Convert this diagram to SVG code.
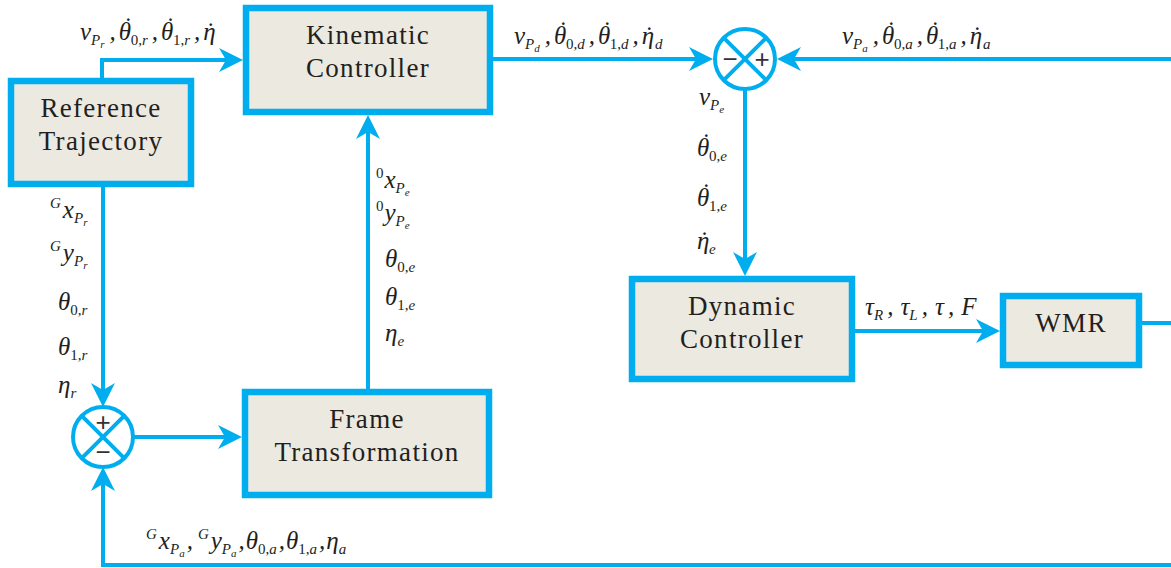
<svg xmlns="http://www.w3.org/2000/svg" width="1171" height="568" viewBox="0 0 1171 568">
  <style>
    .box rect { fill: #ECE9E0; stroke: #00AEEF; stroke-width: 6.5; }
    .lbl { font-family: "Liberation Serif", serif; font-size: 27px; fill: #231F20; text-anchor: middle; letter-spacing: 1.3px; }
    .m { font-family: "Liberation Serif", serif; font-style: italic; font-size: 25px; fill: #231F20; }
    .s { font-size: 15px; }
    .ss { font-size: 11px; }
    .up { font-style: normal; }
    .wire { fill: none; stroke: #00AEEF; stroke-width: 4; }
    .sum circle { fill: #FFFFFF; stroke: #00AEEF; stroke-width: 4; }
    .sum line { stroke: #00AEEF; stroke-width: 4; }
    .sign { font-family: "Liberation Sans", sans-serif; font-size: 26px; fill: #333333; text-anchor: middle; }
  </style>
  <defs>
    <marker id="ah" markerUnits="userSpaceOnUse" markerWidth="24" markerHeight="24" viewBox="0 0 24 24" refX="16" refY="12" orient="auto">
      <path d="M0,0 L24,12 L0,24 L7,12 z" fill="#00AEEF"/>
    </marker>
  </defs>

  <rect width="1171" height="568" fill="#FFFFFF"/>

  <!-- connectors -->
  <g id="connectors">
    <path class="wire" d="M102,78 V60 H235" marker-end="url(#ah)"/>
    <path class="wire" d="M493,59 H705" marker-end="url(#ah)"/>
    <path class="wire" d="M1171,59 H785" marker-end="url(#ah)"/>
    <path class="wire" d="M745,89 V268" marker-end="url(#ah)"/>
    <path class="wire" d="M855,331 H992" marker-end="url(#ah)"/>
    <path class="wire" d="M1142,323 H1171"/>
    <path class="wire" d="M103,187 V399" marker-end="url(#ah)"/>
    <path class="wire" d="M133,437 H234" marker-end="url(#ah)"/>
    <path class="wire" d="M368,389 V123" marker-end="url(#ah)"/>
    <path class="wire" d="M1171,565 H103 V475" marker-end="url(#ah)"/>
  </g>

  <!-- blocks -->
  <g id="reference-trajectory" class="box">
    <rect x="11" y="81" width="180" height="103"/>
    <text class="lbl" x="101" y="117">Reference</text>
    <text class="lbl" x="101" y="150">Trajectory</text>
  </g>
  <g id="kinematic-controller" class="box">
    <rect x="246" y="8" width="244" height="104"/>
    <text class="lbl" x="368" y="44">Kinematic</text>
    <text class="lbl" x="368" y="77">Controller</text>
  </g>
  <g id="frame-transformation" class="box">
    <rect x="245" y="392" width="244" height="103"/>
    <text class="lbl" x="367" y="428">Frame</text>
    <text class="lbl" x="367" y="461">Transformation</text>
  </g>
  <g id="dynamic-controller" class="box">
    <rect x="632" y="279" width="220" height="100"/>
    <text class="lbl" x="742" y="315">Dynamic</text>
    <text class="lbl" x="742" y="348">Controller</text>
  </g>
  <g id="wmr" class="box">
    <rect x="1003" y="296" width="136" height="69"/>
    <text class="lbl" x="1071" y="332">WMR</text>
  </g>

  <!-- summing junctions -->
  <g id="sum-top" class="sum">
    <circle cx="745" cy="59" r="30"/>
    <line x1="723.8" y1="37.8" x2="766.2" y2="80.2"/>
    <line x1="766.2" y1="37.8" x2="723.8" y2="80.2"/>
    <text class="sign" x="730" y="68">−</text>
    <text class="sign" x="762" y="68">+</text>
  </g>
  <g id="sum-bottom" class="sum">
    <circle cx="103" cy="437" r="30"/>
    <line x1="81.8" y1="415.8" x2="124.2" y2="458.2"/>
    <line x1="124.2" y1="415.8" x2="81.8" y2="458.2"/>
    <text class="sign" x="103" y="431">+</text>
    <text class="sign" x="103" y="461">−</text>
  </g>

  <!-- signal labels; dotted symbols use a dot accent shifted back over the letter -->
  <g id="labels">
    <text class="m" x="80" y="40">v<tspan class="s" dy="5">P</tspan><tspan class="ss" dy="3">r</tspan><tspan dy="-8" dx="5">,</tspan><tspan dx="3">θ</tspan><tspan dx="-8.7" dy="-5">˙</tspan><tspan class="s" dy="10"><tspan class="up">0,</tspan>r</tspan><tspan dy="-5" dx="4">,</tspan><tspan dx="3">θ</tspan><tspan dx="-8.7" dy="-5">˙</tspan><tspan class="s" dy="10"><tspan class="up">1,</tspan>r</tspan><tspan dy="-5" dx="4">,</tspan><tspan dx="3">η</tspan><tspan dx="-10.7">˙</tspan></text>

    <text class="m" x="514" y="44">v<tspan class="s" dy="5">P</tspan><tspan class="ss" dy="3">d</tspan><tspan dy="-8" dx="5">,</tspan><tspan dx="3">θ</tspan><tspan dx="-8.7" dy="-5">˙</tspan><tspan class="s" dy="10"><tspan class="up">0,</tspan>d</tspan><tspan dy="-5" dx="4">,</tspan><tspan dx="3">θ</tspan><tspan dx="-8.7" dy="-5">˙</tspan><tspan class="s" dy="10"><tspan class="up">1,</tspan>d</tspan><tspan dy="-5" dx="4">,</tspan><tspan dx="3">η</tspan><tspan dx="-10.7">˙</tspan><tspan class="s" dx="3" dy="5">d</tspan></text>

    <text class="m" x="842" y="44">v<tspan class="s" dy="5">P</tspan><tspan class="ss" dy="3">a</tspan><tspan dy="-8" dx="5">,</tspan><tspan dx="3">θ</tspan><tspan dx="-8.7" dy="-5">˙</tspan><tspan class="s" dy="10"><tspan class="up">0,</tspan>a</tspan><tspan dy="-5" dx="4">,</tspan><tspan dx="3">θ</tspan><tspan dx="-8.7" dy="-5">˙</tspan><tspan class="s" dy="10"><tspan class="up">1,</tspan>a</tspan><tspan dy="-5" dx="4">,</tspan><tspan dx="3">η</tspan><tspan dx="-10.7">˙</tspan><tspan class="s" dx="3" dy="5">a</tspan></text>

    <!-- reference pose, left branch -->
    <text class="m" x="50" y="218"><tspan class="s" dy="-10">G</tspan><tspan dx="2" dy="10">x</tspan><tspan class="s" dy="5">P</tspan><tspan class="ss" dy="3">r</tspan></text>
    <text class="m" x="50" y="261"><tspan class="s" dy="-10">G</tspan><tspan dx="2" dy="10">y</tspan><tspan class="s" dy="5">P</tspan><tspan class="ss" dy="3">r</tspan></text>
    <text class="m" x="58" y="310">θ<tspan class="s" dy="5"><tspan class="up">0,</tspan>r</tspan></text>
    <text class="m" x="58" y="355">θ<tspan class="s" dy="5"><tspan class="up">1,</tspan>r</tspan></text>
    <text class="m" x="58" y="393">η<tspan class="s" dy="5">r</tspan></text>

    <!-- pose error, middle branch -->
    <text class="m" x="376" y="188"><tspan class="s up" dy="-10">0</tspan><tspan dx="1" dy="10">x</tspan><tspan class="s" dy="5">P</tspan><tspan class="ss" dy="3">e</tspan></text>
    <text class="m" x="376" y="221"><tspan class="s up" dy="-10">0</tspan><tspan dx="1" dy="10">y</tspan><tspan class="s" dy="5">P</tspan><tspan class="ss" dy="3">e</tspan></text>
    <text class="m" x="385" y="267">θ<tspan class="s" dy="5"><tspan class="up">0,</tspan>e</tspan></text>
    <text class="m" x="385" y="305">θ<tspan class="s" dy="5"><tspan class="up">1,</tspan>e</tspan></text>
    <text class="m" x="385" y="341">η<tspan class="s" dy="5">e</tspan></text>

    <!-- velocity error, right branch -->
    <text class="m" x="699" y="105">v<tspan class="s" dy="5">P</tspan><tspan class="ss" dy="3">e</tspan></text>
    <text class="m" x="697" y="156">θ<tspan dx="-8.7" dy="-5">˙</tspan><tspan class="s" dy="10"><tspan class="up">0,</tspan>e</tspan></text>
    <text class="m" x="697" y="206">θ<tspan dx="-8.7" dy="-5">˙</tspan><tspan class="s" dy="10"><tspan class="up">1,</tspan>e</tspan></text>
    <text class="m" x="697" y="249">η<tspan dx="-10.7">˙</tspan><tspan class="s" dx="2" dy="5">e</tspan></text>

    <text class="m" x="865" y="315">τ<tspan class="s" dy="5">R</tspan><tspan dy="-5" dx="4">,</tspan><tspan dx="7">τ</tspan><tspan class="s" dy="5">L</tspan><tspan dy="-5" dx="4">,</tspan><tspan dx="7">τ</tspan><tspan dx="4">,</tspan><tspan dx="7">F</tspan></text>

    <text class="m" x="146" y="549"><tspan class="s" dy="-10">G</tspan><tspan dx="2" dy="10">x</tspan><tspan class="s" dy="5">P</tspan><tspan class="ss" dy="3">a</tspan><tspan dy="-8" dx="2">,</tspan><tspan class="s" dx="5" dy="-10">G</tspan><tspan dx="2" dy="10">y</tspan><tspan class="s" dy="5">P</tspan><tspan class="ss" dy="3">a</tspan><tspan dy="-8" dx="2">,</tspan><tspan dx="1">θ</tspan><tspan class="s" dy="5"><tspan class="up">0,</tspan>a</tspan><tspan dy="-5" dx="2">,</tspan><tspan dx="1">θ</tspan><tspan class="s" dy="5"><tspan class="up">1,</tspan>a</tspan><tspan dy="-5" dx="2">,</tspan><tspan dx="1">η</tspan><tspan class="s" dy="5">a</tspan></text>
  </g>
</svg>
